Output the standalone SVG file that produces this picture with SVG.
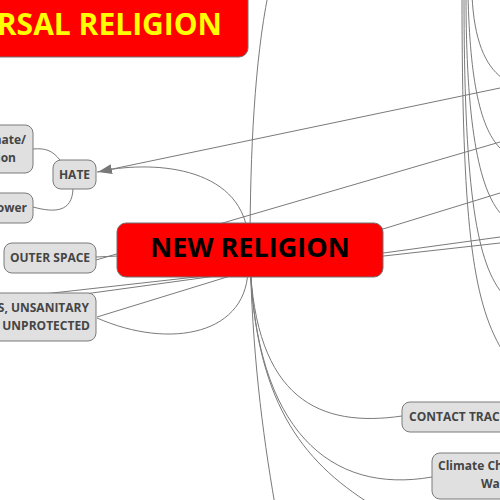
<svg xmlns="http://www.w3.org/2000/svg" width="500" height="500" viewBox="0 0 500 500">
<defs>
<style>
.c{fill:none;stroke:#7a7a7a;stroke-width:1}
.n rect{fill:#e0e0e0;stroke:#7a7a7a;stroke-width:1}
.n text{font-family:"Open Sans","Noto Sans",sans-serif;font-weight:bold;font-size:12px;fill:#454545}
.r rect{fill:#ff0000;stroke:#707070;stroke-width:1}
</style>
<marker id="arr" markerUnits="userSpaceOnUse" markerWidth="14" markerHeight="10" refX="14" refY="5" orient="auto">
<path d="M0,0 L14,5 L0,10 z" fill="#777"/>
</marker>
</defs>
<rect width="500" height="500" fill="#fff"/>
<g id="connectors">
<path class="c" d="M500 88 L98 172" marker-end="url(#arr)"/>
<path class="c" d="M248 235 C240 165 150 160 97 172"/>
<path class="c" d="M60 160 C52 150 45 148 33 149"/>
<path class="c" d="M73 189 C72 212 55 213 33 207"/>
<path class="c" d="M500 142 L96 260"/>
<path class="c" d="M500 193 L97 317"/>
<path class="c" d="M500 237 L-10 307"/>
<path class="c" d="M500 243 L-10 300"/>
<path class="c" d="M250 250 L96 257"/>
<path class="c" d="M248 265 C250 335 170 350 97 318"/>
<path class="c" d="M250 250 C250 150 255 60 268 -5"/>
<path class="c" d="M250 250 C252 350 262 430 275 505"/>
<path class="c" d="M250 260 C255 400 320 428 402 416"/>
<path class="c" d="M250 260 C255 430 330 495 432 477"/>
<path class="c" d="M250 260 C255 400 300 460 372 505"/>
<path class="c" d="M472 -5 C474 40 485 65 502 78"/>
<path class="c" d="M468 -5 C470 80 480 130 502 150"/>
<path class="c" d="M466 -5 C466 120 478 190 502 215"/>
<path class="c" d="M464 -5 C464 180 475 260 502 293"/>
<path class="c" d="M462 -5 C462 220 472 300 502 350"/>
</g>
<g id="universal" class="r">
<rect x="-300" y="-20" width="548" height="77" rx="9"/>
<text x="222" y="35" text-anchor="end" font-family="'Open Sans','Noto Sans',sans-serif" font-weight="bold" font-size="30" fill="#ffff00">UNIVERSAL RELIGION</text>
</g>
<g id="new-religion" class="r">
<rect x="117" y="223" width="266" height="54" rx="9"/>
<text x="250" y="257" text-anchor="middle" font-family="'Open Sans','Noto Sans',sans-serif" font-weight="bold" font-size="27" fill="#000">NEW RELIGION</text>
</g>
<g id="hate" class="n">
<rect x="53" y="160" width="43" height="29" rx="8"/>
<text x="74.5" y="179" text-anchor="middle">HATE</text>
</g>
<g id="climate-migration" class="n">
<rect x="-40" y="125" width="73" height="48" rx="8"/>
<text x="26" y="144" text-anchor="end">mate/</text>
<text x="16" y="162" text-anchor="end">ion</text>
</g>
<g id="power" class="n">
<rect x="-40" y="193" width="73" height="30" rx="8"/>
<text x="27" y="212" text-anchor="end">Power</text>
</g>
<g id="outer-space" class="n">
<rect x="4" y="243" width="92" height="30" rx="8"/>
<text x="50" y="262" text-anchor="middle">OUTER SPACE</text>
</g>
<g id="unsanitary" class="n">
<rect x="-60" y="293" width="156" height="48" rx="8"/>
<text x="89" y="312" text-anchor="end">S, UNSANITARY</text>
<text x="90" y="330" text-anchor="end">UNPROTECTED</text>
</g>
<g id="contact-tracing" class="n">
<rect x="402" y="402" width="150" height="30" rx="8"/>
<text x="409" y="421">CONTACT TRACING</text>
</g>
<g id="climate-change" class="n">
<rect x="432" y="453" width="120" height="46" rx="8"/>
<text x="438" y="470">Climate Change</text>
<text x="481" y="488">Warming</text>
</g>
</svg>
